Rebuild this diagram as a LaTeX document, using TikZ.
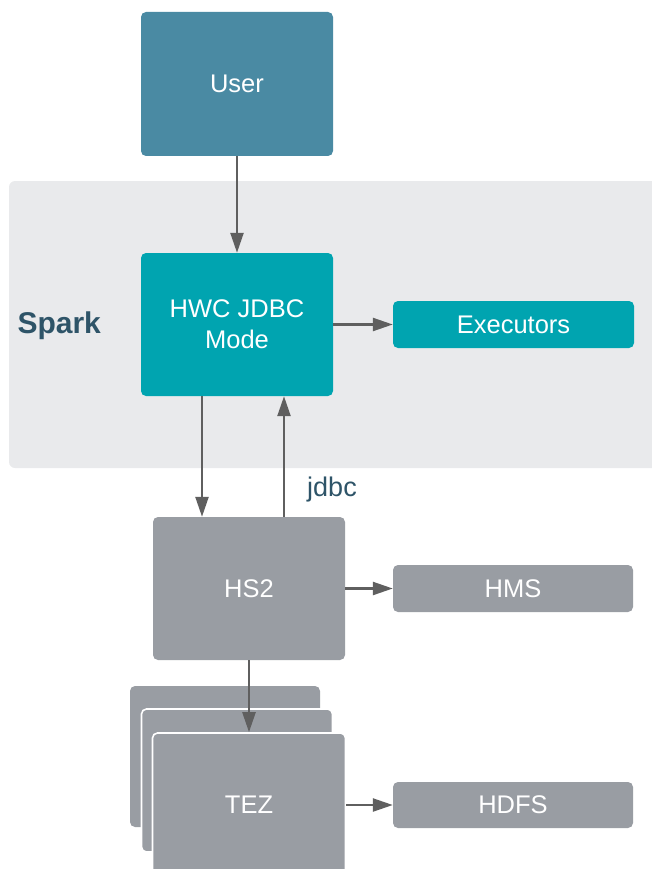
\documentclass[tikz,border=0pt]{standalone}
\usepackage{fontspec}
\setmainfont{Liberation Sans}
\usetikzlibrary{arrows.meta}
\definecolor{userblue}{HTML}{4A8AA3}
\definecolor{teal}{HTML}{00A4B0}
\definecolor{boxgray}{HTML}{999DA3}
\definecolor{sparkbg}{HTML}{E9EAEC}
\definecolor{arrowgray}{HTML}{5F5F5F}
\definecolor{slate}{HTML}{2E5468}
\tikzset{
  box/.style={rounded corners=5pt, inner sep=0pt, text=white, align=center,
    font=\fontsize{25.5}{31}\selectfont},
  userbox/.style={box, fill=userblue},
  tealbox/.style={box, fill=teal},
  graybox/.style={box, fill=boxgray},
  stackbox/.style={box, fill=boxgray, draw=white, line width=1.6pt},
  arr/.style={draw=arrowgray, line width=2.4pt, -{Triangle[length=20pt,width=13pt]}},
}
\begin{document}
\begin{tikzpicture}[x=1pt,y=-1pt]
\useasboundingbox (0,0) rectangle (652,869);
\clip (0,0) rectangle (652,869);
\fill[sparkbg, rounded corners=6pt] (9,181) rectangle (670,468);
\node[anchor=west, text=slate, font=\fontsize{30}{34}\selectfont\bfseries] (spark) at (14,326) {Spark};

\node[userbox, minimum width=192pt, minimum height=144pt] (user) at (237,84) {User};
\node[tealbox, minimum width=192pt, minimum height=143pt] (hwc) at (237,324.5) {HWC JDBC\\Mode};
\node[tealbox, minimum width=241pt, minimum height=47pt] (exec) at (513.5,324.5) {Executors};
\node[graybox, minimum width=192pt, minimum height=143pt] (hs2) at (249,588.5) {HS2};
\node[graybox, minimum width=240pt, minimum height=47pt] (hms) at (513,588.5) {HMS};
\node[graybox, minimum width=190pt, minimum height=141pt] (tezback) at (225,756.5) {};
\node[stackbox, minimum width=191pt, minimum height=143pt] (tezmid) at (237,780.5) {};
\node[stackbox, minimum width=193pt, minimum height=144pt] (tez) at (249,805) {TEZ};
\node[graybox, minimum width=240pt, minimum height=46pt] (hdfs) at (513,805) {HDFS};

\node[text=slate, font=\fontsize{27}{30}\selectfont] (jdbc) at (332,490) {jdbc};

\draw[arr] (user.south) -- (hwc.north);
\draw[arr] (hwc.east) -- (exec.west);
\draw[arr] ([xshift=-35pt]hwc.south) -- ([xshift=-47pt]hs2.north);
\draw[arr] ([xshift=35pt]hs2.north) -- ([xshift=47pt]hwc.south);
\draw[arr] (hs2.east) -- (hms.west);
\draw[arr] (hs2.south) -- (tez.north);
\draw[arr] (tez.east) -- (hdfs.west);
\end{tikzpicture}
\end{document}
